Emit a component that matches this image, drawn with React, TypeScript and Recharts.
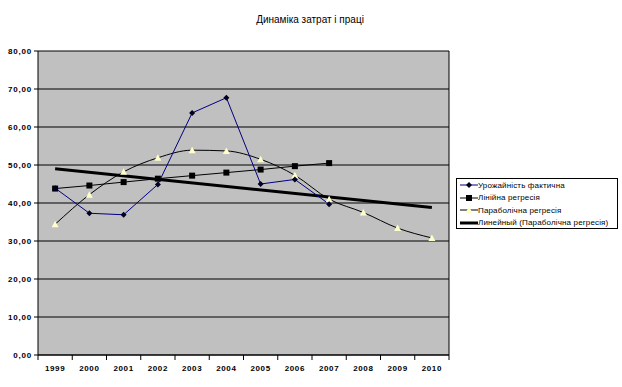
import React from 'react';
import { ComposedChart, Line, XAxis, YAxis, CartesianGrid, ReferenceLine, Legend } from 'recharts';

const years = ['1999', '2000', '2001', '2002', '2003', '2004', '2005', '2006', '2007', '2008', '2009', '2010'];
const actual = [43.9, 37.3, 36.9, 44.9, 63.7, 67.7, 45.0, 46.2, 39.7, null, null, null];
const linear = [43.8, 44.6, 45.5, 46.4, 47.2, 48.0, 48.8, 49.7, 50.5, null, null, null];
const parabolic = [34.4, 42.2, 48.2, 51.9, 53.9, 53.7, 51.5, 47.3, 41.0, 37.5, 33.4, 30.8];
const trend = [49.0, null, null, null, null, null, null, null, null, null, null, 38.8];
const yTicks = [0, 10, 20, 30, 40, 50, 60, 70, 80];
const seriesNames = ['Урожайність фактична', 'Лінійна регресія', 'Параболічна регресія', 'Линейный (Параболічна регресія)'];
const title = 'Динаміка затрат і праці';

const data = years.map((y, i) => ({
  i,
  year: y,
  actual: actual[i],
  linear: linear[i],
  parabolic: parabolic[i],
  trend: trend[i],
}));

const boundaryTicks = years.map((_, i) => i - 0.5).concat([years.length - 0.5]);

const W = 622;
const H = 387;
const LEFT = 38;
const RIGHT = 449;
const TOP = 51;
const BOTTOM = 355;
const STEP = (RIGHT - LEFT) / years.length;

const FONT = 'Liberation Sans, Arial, sans-serif';

const XTick = (props: any) => {
  const { x, y, index } = props;
  if (index >= years.length) return null;
  return (
    <text x={x + STEP / 2} y={y + 9} textAnchor="middle" fontFamily={FONT} fontSize={8} fontWeight="bold" letterSpacing={0.6} fill="#000">
      {years[index]}
    </text>
  );
};

const Diamond = (props: any) => {
  const { cx, cy, value } = props;
  if (value == null || cx == null) return null;
  const r = 3;
  return <path d={`M${cx},${cy - r} L${cx + r},${cy} L${cx},${cy + r} L${cx - r},${cy} Z`} fill="#000020" stroke="none" />;
};

const Square = (props: any) => {
  const { cx, cy, value } = props;
  if (value == null || cx == null) return null;
  return <rect x={cx - 3} y={cy - 3} width={6} height={6} fill="#000" />;
};

const Triangle = (props: any) => {
  const { cx, cy, value } = props;
  if (value == null || cx == null) return null;
  return <path d={`M${cx},${cy - 3.5} L${cx + 3.5},${cy + 3} L${cx - 3.5},${cy + 3} Z`} fill="#FFFFCC" stroke="none" />;
};

const LegendContent = () => {
  const row = (i: number, sample: React.ReactNode) => (
    <div key={i} style={{ display: 'flex', alignItems: 'center', height: 12.5 }}>
      <svg width={20} height={12} style={{ flex: 'none' }}>{sample}</svg>
      <span style={{ fontFamily: FONT, fontSize: 8, whiteSpace: 'nowrap', color: '#000', letterSpacing: 0.15 }}>{seriesNames[i]}</span>
    </div>
  );
  return (
    <div style={{ width: 159, height: 49, border: '1px solid #000', background: '#fff', paddingLeft: 1, boxSizing: 'content-box' }}>
      {row(0, <g><line x1={2} y1={6} x2={20} y2={6} stroke="#000080" /><path d="M11,3 L14,6 L11,9 L8,6 Z" fill="#000020" /></g>)}
      {row(1, <g><line x1={2} y1={6} x2={20} y2={6} stroke="#000" /><rect x={8} y={3} width={6} height={6} fill="#000" /></g>)}
      {row(2, <g><line x1={2} y1={6} x2={20} y2={6} stroke="#000" /><path d="M11,2.5 L14.5,9 L7.5,9 Z" fill="#FFFFCC" /></g>)}
      {row(3, <g><line x1={2} y1={6} x2={20} y2={6} stroke="#000" strokeWidth={3} /></g>)}
    </div>
  );
};

export default function App() {
  return (
    <div style={{ position: 'absolute', left: 0, top: 0, width: W, height: H, background: '#fff' }}>
      <div style={{ position: 'absolute', left: 0, width: W - 2, top: 14, textAlign: 'center', fontFamily: FONT, fontSize: 10, color: '#000' }}>
        {title}
      </div>
      <ComposedChart
        width={W}
        height={H}
        data={data}
        margin={{ top: TOP, right: W - RIGHT, left: 0, bottom: H - BOTTOM - 20 }}
      >
        <CartesianGrid fill="#C0C0C0" fillOpacity={1} stroke="#000" vertical={false} />
        <XAxis
          type="number"
          dataKey="i"
          domain={[-0.5, years.length - 0.5]}
          ticks={boundaryTicks}
          interval={0}
          height={20}
          tickSize={5}
          stroke="#000"
          tickLine={{ stroke: '#000' }}
          axisLine={{ stroke: '#000' }}
          tick={<XTick />}
          allowDataOverflow
        />
        <YAxis
          domain={[0, 80]}
          ticks={yTicks}
          width={LEFT}
          tickSize={4}
          interval={0}
          stroke="#000"
          tick={{ fontFamily: FONT, fontSize: 8, fontWeight: 'bold', fill: '#000', letterSpacing: 0.8 }}
          tickFormatter={(v: number) => v.toFixed(2).replace('.', ',')}
        />
        <ReferenceLine x={years.length - 0.5} stroke="#000" ifOverflow="visible" />
        <Line type="linear" dataKey="trend" stroke="#000" strokeWidth={3} dot={false} connectNulls isAnimationActive={false} name={seriesNames[3]} />
        <Line type="linear" dataKey="linear" stroke="#000" strokeWidth={1} dot={<Square />} activeDot={false} isAnimationActive={false} name={seriesNames[1]} />
        <Line type="monotone" dataKey="parabolic" stroke="#000" strokeWidth={1} dot={<Triangle />} activeDot={false} isAnimationActive={false} name={seriesNames[2]} />
        <Line type="linear" dataKey="actual" stroke="#000080" strokeWidth={1} dot={<Diamond />} activeDot={false} isAnimationActive={false} name={seriesNames[0]} />
        <Legend
          layout="vertical"
          align="center"
          verticalAlign="middle"
          content={<LegendContent />}
          wrapperStyle={{ position: 'absolute', left: 456, top: 178, width: 161, height: 51 }}
        />
      </ComposedChart>
    </div>
  );
}
